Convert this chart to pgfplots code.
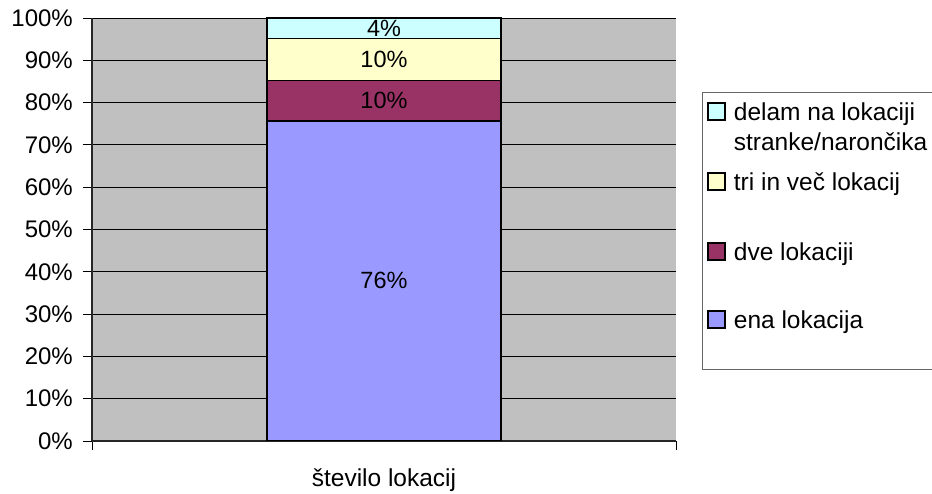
\documentclass[border=0pt]{standalone}
\usepackage{fontspec}
\setmainfont{Liberation Sans}
\usepackage{pgfplots}
\pgfplotsset{compat=1.18}
\definecolor{bggray}{HTML}{C0C0C0}
\definecolor{cblue}{HTML}{9999FF}
\definecolor{cmaroon}{HTML}{993366}
\definecolor{cyellow}{HTML}{FFFFCC}
\definecolor{ccyan}{HTML}{CCFFFF}
\begin{document}
\fontsize{24}{30}\selectfont
\begin{tikzpicture}
\useasboundingbox (0,0) rectangle (932pt,494pt);
\begin{axis}[
  at={(92pt,53pt)}, anchor=south west,
  scale only axis, width=584pt, height=423pt,
  ybar stacked, bar width=0.4,
  xmin=-0.5, xmax=0.5, ymin=0, ymax=100,
  xtick={-0.5,0.5}, xticklabels={},
  extra x ticks={0}, extra x tick labels={število lokacij},
  extra x tick style={major tick length=0pt, grid=none,
     tick label style={anchor=base, yshift=-46pt, font=\fontsize{24.5}{30}\selectfont}},
  ytick={0,10,...,100},
  yticklabel={\pgfmathprintnumber{\tick}\%},
  yticklabel style={xshift=-2pt},
  /pgf/number format/assume math mode=true,
  ymajorgrids, grid style={black, line width=0.8pt},
  axis x line*=bottom, axis y line*=left,
  axis line style={black!85, line width=1.3pt, -},
  tick align=outside, major tick length=9pt,
  tick style={black, line width=0.8pt},
  axis background/.style={fill=bggray},
  point meta=explicit symbolic,
  nodes near coords,
  every node near coord/.append style={anchor=center, text=black,
     font=\fontsize{23.5}{28}\selectfont},
  legend style={at={(1.0445,0.8251)}, anchor=north west,
     draw=black!60, line width=0.8pt, fill=white,
     inner xsep=5pt, inner ysep=7pt, row sep=0pt,
     font=\fontsize{24.5}{30}\selectfont,
     nodes={anchor=base west, inner sep=0pt},
     /tikz/every odd column/.append style={column sep=8pt}},
  legend image code/.code={\draw[#1, draw=black, line width=1.5pt] (0pt,0.5pt) rectangle (17pt,17.5pt);},
  reverse legend,
]
\addplot[fill=cblue, draw=black, line width=1.5pt] coordinates {(0,75.7) [76\%]};
\addlegendentry[text height=31pt, text depth=34pt]{ena lokacija}
\addplot[fill=cmaroon, draw=black, line width=1.5pt] coordinates {(0,9.5) [10\%]};
\addlegendentry[text height=31pt, text depth=37pt]{dve lokaciji}
\addplot[fill=cyellow, draw=black, line width=1.5pt] coordinates {(0,9.9) [10\%]};
\addlegendentry[text height=31pt, text depth=39pt]{tri in več lokacij}
\addplot[fill=ccyan, draw=black, line width=1.5pt] coordinates {(0,4.9) [4\%]};
\addlegendentry[text height=21pt, text depth=39pt]{\begin{tabular}[t]{@{}l@{}}delam na lokaciji\\stranke/narončika\hspace*{40pt}\mbox{}\end{tabular}}
\end{axis}
\end{tikzpicture}
\end{document}
